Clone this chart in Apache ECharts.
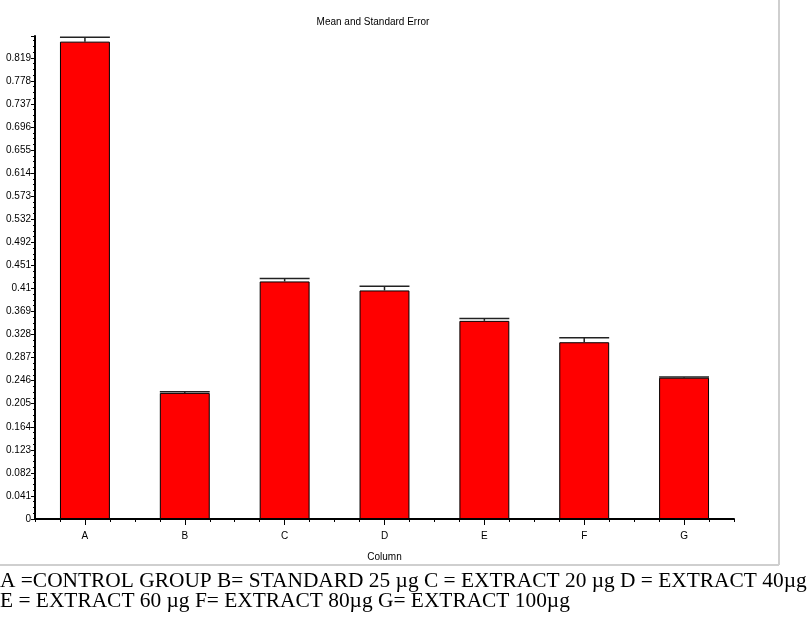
<!DOCTYPE html>
<html>
<head>
<meta charset="utf-8">
<script src="https://cdn.jsdelivr.net/npm/echarts@6/dist/echarts.min.js"></script>
<style>
html,body{margin:0;padding:0;background:#fff;}
#chart{width:807px;height:640px;}
</style>
</head>
<body>
<div id="chart"></div>
<script>
var categories = ['A', 'B', 'C', 'D', 'E', 'F', 'G'];
var means = [0.848, 0.224, 0.422, 0.406, 0.352, 0.314, 0.251];
var stdErrors = [0.0078, 0.002, 0.0053, 0.0076, 0.004, 0.008, 0.0013];
var yTickLabels = ['0', '0.041', '0.082', '0.123', '0.164', '0.205', '0.246', '0.287', '0.328', '0.369', '0.41', '0.451', '0.492', '0.532', '0.573', '0.614', '0.655', '0.696', '0.737', '0.778', '0.819'];
var yInterval = 0.04096;
var titleText = 'Mean and Standard Error';
var xAxisTitle = 'Column';
var footnoteLines = [
  'A =CONTROL GROUP B= STANDARD 25 \u00b5g C = EXTRACT 20 \u00b5g D = EXTRACT 40\u00b5g',
  'E = EXTRACT 60 \u00b5g F= EXTRACT 80\u00b5g G= EXTRACT 100\u00b5g'
];

var narrow = '"Liberation Sans Narrow", "Arial Narrow", "Liberation Sans", Arial, sans-serif';
var serif = '"Liberation Serif", "Times New Roman", serif';

var errData = means.map(function (m, i) { return [i, m, stdErrors[i]]; });

var chart = echarts.init(document.getElementById('chart'), null, {renderer: 'canvas'});
chart.setOption({
  animation: false,
  backgroundColor: '#fff',
  title: {
    text: titleText,
    left: 368, top: 12, textAlign: 'center',
    textStyle: {fontFamily: narrow, fontSize: 10, fontWeight: 'normal', color: '#000'}
  },
  grid: {left: 35, right: 73, top: 36, bottom: 121, containLabel: false},
  xAxis: [{
    type: 'category',
    data: categories,
    boundaryGap: true,
    axisLine: {lineStyle: {color: '#000', width: 2}},
    axisTick: {show: true, alignWithLabel: true, length: 6, lineStyle: {color: '#000'}},
    axisLabel: {fontFamily: narrow, fontSize: 10, color: '#000', margin: 12},
    name: xAxisTitle,
    nameLocation: 'middle',
    nameGap: 33,
    nameTextStyle: {fontFamily: narrow, fontSize: 10, color: '#000'}
  }, {
    type: 'value',
    min: 0, max: 7, interval: 0.25,
    position: 'bottom',
    axisLine: {show: false},
    axisTick: {show: true, length: 3, lineStyle: {color: '#000'}},
    axisLabel: {show: false},
    splitLine: {show: false}
  }],
  yAxis: {
    type: 'value',
    min: 0, max: 0.858, interval: yInterval,
    axisLine: {show: true, lineStyle: {color: '#000', width: 2}},
    axisTick: {show: true, length: 4, lineStyle: {color: '#000'}},
    minorTick: {show: true, splitNumber: 4, length: 2, lineStyle: {color: '#000'}},
    splitLine: {show: false},
    axisLabel: {
      showMaxLabel: false,
      fontFamily: narrow, fontSize: 10, color: '#000', margin: 4,
      formatter: function (v) {
        var k = Math.round(v / yInterval);
        if (Math.abs(v - k * yInterval) > 1e-6) return '';
        return yTickLabels[k] !== undefined ? yTickLabels[k] : '';
      }
    }
  },
  series: [{
    type: 'bar',
    data: means,
    barWidth: '50%',
    itemStyle: {color: '#ff0000', borderColor: '#000', borderWidth: 1}
  }, {
    type: 'custom',
    data: errData,
    z: 10,
    renderItem: function (params, api) {
      var idx = api.value(0), m = api.value(1), e = api.value(2);
      var base = api.coord([idx, m]);
      var top = api.coord([idx, m + e]);
      var half = api.size([1, 0])[0] * 0.5 / 2;
      var style = {stroke: '#222', lineWidth: 1.5, fill: null};
      return {
        type: 'group',
        children: [
          {type: 'line', shape: {x1: base[0], y1: base[1], x2: top[0], y2: top[1]}, style: style},
          {type: 'line', shape: {x1: top[0] - half, y1: top[1], x2: top[0] + half, y2: top[1]}, style: style}
        ]
      };
    }
  }],
  graphic: [
    {type: 'line', shape: {x1: 0, y1: 565, x2: 779, y2: 565}, style: {stroke: '#cfcfcf', lineWidth: 2}},
    {type: 'line', shape: {x1: 779, y1: 0, x2: 779, y2: 565}, style: {stroke: '#cfcfcf', lineWidth: 2}},
    {type: 'text', left: 0, top: 571, style: {text: footnoteLines[0], fontFamily: serif, fontSize: 21.4, fill: '#000'}},
    {type: 'text', left: 0, top: 591, style: {text: footnoteLines[1], fontFamily: serif, fontSize: 21.4, fill: '#000'}}
  ]
});
</script>
</body>
</html>
